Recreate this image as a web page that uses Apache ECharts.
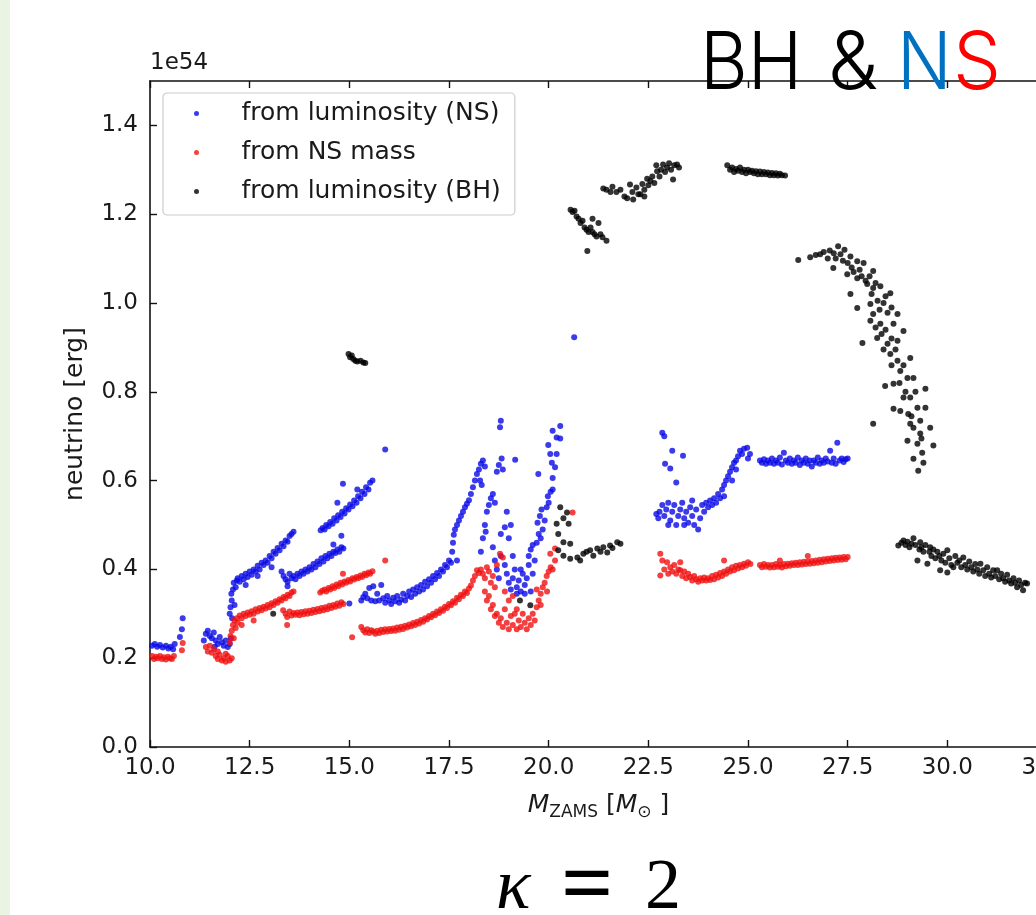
<!DOCTYPE html>
<html>
<head>
<meta charset="utf-8">
<script src="https://cdn.jsdelivr.net/npm/echarts@6/dist/echarts.min.js"></script>
<style>
  html, body { margin: 0; padding: 0; background: #fff; overflow: hidden; width: 1036px; height: 915px; }
  #myScatter { width: 1100px; height: 915px; }
</style>
</head>
<body>
<div id="myScatter"></div>
<script>
// values in units of 1e54 erg, x = M_ZAMS
const lumNS = [
  [10.05,0.228],[10.12,0.232],[10.18,0.226],[10.25,0.23],[10.32,0.224],[10.4,0.228],[10.46,0.222],[10.52,0.226],[10.58,0.22],[10.62,0.232],[10.75,0.248],[10.8,0.265],[10.82,0.29],
  [11.35,0.24],[11.4,0.255],[11.45,0.262],[11.5,0.25],[11.55,0.245],[11.6,0.258],[11.65,0.24],[11.7,0.232],[11.75,0.248],[11.8,0.236],[11.85,0.228],[11.9,0.24],[11.95,0.225],[12.0,0.232],[12.03,0.245],[11.62,0.226],
  [12.0,0.3],[12.02,0.315],[12.05,0.33],[12.04,0.345],[12.08,0.355],[12.1,0.37],[12.12,0.32],[12.15,0.36],[12.18,0.375],[12.06,0.29],
  [12.2,0.38],[12.25,0.372],[12.3,0.385],[12.35,0.378],[12.4,0.39],[12.45,0.383],[12.5,0.395],[12.55,0.388],[12.6,0.4],[12.65,0.395],[12.7,0.408],[12.75,0.4],[12.8,0.415],[12.85,0.41],[12.9,0.42],[12.95,0.415],[13.0,0.43],[13.05,0.425],[13.1,0.44],[13.15,0.435],[13.2,0.448],[13.25,0.443],[13.3,0.458],[13.35,0.452],[13.4,0.465],[13.45,0.462],[13.5,0.475],[13.55,0.48],[13.6,0.485],[12.4,0.365],[12.7,0.385],[13.05,0.405],
  [13.3,0.395],[13.35,0.385],[13.4,0.378],[13.45,0.372],[13.5,0.39],[13.55,0.38],[13.6,0.385],[13.65,0.378],[13.7,0.39],[13.75,0.385],[13.8,0.395],[13.85,0.39],[13.9,0.4],[13.95,0.395],[14.0,0.405],[14.05,0.4],[14.1,0.412],[14.15,0.405],[14.2,0.418],[14.25,0.412],[14.3,0.425],[14.35,0.418],[14.4,0.43],[14.45,0.425],[14.5,0.435],[14.55,0.43],[14.6,0.44],[14.65,0.437],[14.7,0.445],[14.75,0.44],[14.8,0.45],[14.85,0.447],[13.45,0.362],[14.6,0.456],[14.8,0.476],
  [14.28,0.488],[14.33,0.493],[14.38,0.49],[14.42,0.5],[14.48,0.497],[14.52,0.507],[14.58,0.503],[14.62,0.515],[14.68,0.51],[14.72,0.522],[14.78,0.518],[14.82,0.53],[14.88,0.526],[14.92,0.538],[14.98,0.535],[15.02,0.546],[15.08,0.542],[15.12,0.555],[15.18,0.55],[15.22,0.565],[15.28,0.56],[15.32,0.575],[15.38,0.57],[15.42,0.585],[15.48,0.58],[15.52,0.595],[15.58,0.6],[14.7,0.55],[14.84,0.593],[15.2,0.58],[15.9,0.67],
  [15.0,0.323],[15.3,0.33],[15.35,0.338],[15.4,0.345],[15.45,0.335],[15.5,0.358],[15.55,0.33],[15.6,0.362],[15.65,0.328],[15.7,0.345],[15.75,0.33],[15.8,0.365],[15.85,0.335],[15.9,0.325],[15.95,0.34],[16.0,0.33],[16.05,0.322],[16.1,0.336],[16.15,0.328],[16.2,0.34],[16.25,0.325],[16.3,0.332],[16.35,0.345],[16.4,0.33],[16.45,0.34],[16.5,0.35],[16.55,0.338],[16.6,0.355],[16.65,0.345],[16.7,0.36],[16.75,0.35],[16.8,0.365],[16.85,0.355],[16.9,0.372],[16.95,0.362],[17.0,0.378],[17.05,0.37],[17.1,0.385],[17.15,0.378],[17.2,0.392],[17.25,0.385],[17.3,0.4],[17.35,0.395],[17.4,0.41],[17.45,0.405],[17.5,0.42],[17.55,0.415],[17.58,0.44],[17.6,0.46],[17.62,0.478],[17.65,0.49],[17.7,0.5],[17.75,0.51],[17.8,0.52],[17.85,0.53],[17.9,0.54],[17.95,0.548],[18.0,0.556],[18.05,0.57],[18.1,0.585],[18.15,0.6],[18.2,0.615],[18.25,0.625],[18.3,0.638],[18.35,0.645],[18.4,0.632],[18.28,0.6],[18.32,0.59],[17.7,0.42],
  [18.3,0.44],[18.35,0.47],[18.4,0.5],[18.42,0.485],[18.45,0.53],[18.5,0.545],[18.55,0.56],[18.6,0.57],[18.65,0.55],[18.7,0.62],[18.75,0.635],[18.78,0.72],[18.8,0.735],[18.82,0.65],[18.85,0.625],[19.16,0.647],[18.8,0.48],[18.9,0.495],[19.0,0.47],[19.05,0.5],[18.95,0.53],[18.6,0.45],[18.65,0.42],[18.7,0.4],[18.75,0.38],[18.8,0.43],[18.9,0.41],[18.95,0.39],[19.0,0.37],[19.05,0.355],[19.1,0.38],[19.15,0.4],[19.2,0.36],[19.25,0.375],[19.3,0.35],[19.35,0.39],[19.4,0.365],[19.45,0.38],[19.5,0.41],[19.55,0.35],[19.6,0.39],[19.65,0.42],[19.1,0.43],[19.2,0.345],[19.4,0.345],[19.3,0.4],
  [19.5,0.43],[19.55,0.445],[19.6,0.455],[19.7,0.46],[19.75,0.48],[19.8,0.47],[19.85,0.49],[19.72,0.505],[19.78,0.52],[19.9,0.51],[19.82,0.535],[19.95,0.54],[20.0,0.55],[19.98,0.565],[20.05,0.575],[20.1,0.58],[19.74,0.615],[20.1,0.606],[20.08,0.64],[20.16,0.63],[20.04,0.66],[20.2,0.66],[19.99,0.68],[20.2,0.697],[20.29,0.695],[20.1,0.712],[20.29,0.723],[20.64,0.923],
  [22.85,0.708],[22.9,0.7],[23.1,0.667],[23.37,0.656],[22.92,0.638],[23.05,0.627],[23.2,0.596],[22.7,0.525],[22.75,0.515],[22.78,0.53],[22.85,0.545],[22.9,0.52],[22.95,0.535],[23.0,0.55],[23.05,0.51],[23.1,0.53],[23.15,0.545],[23.2,0.5],[23.25,0.52],[23.3,0.535],[23.35,0.55],[23.4,0.515],[23.45,0.53],[23.5,0.505],[23.55,0.54],[23.6,0.52],[23.65,0.5],[23.7,0.535],[23.75,0.49],[23.8,0.515],[23.85,0.545],[23.9,0.53],[23.95,0.55],[24.0,0.54],[24.05,0.555],[24.1,0.545],[24.15,0.56],[24.2,0.55],[24.25,0.57],[24.3,0.56],[24.35,0.58],[24.4,0.59],[24.45,0.6],[24.5,0.61],[24.55,0.62],[24.6,0.63],[24.65,0.64],[24.7,0.645],[24.75,0.655],[24.8,0.667],[24.85,0.66],[24.9,0.672],[24.98,0.674],[25.05,0.66],[25.0,0.65],[24.6,0.6],[24.4,0.565],[24.7,0.625],[23.4,0.5],[23.6,0.555],[23.0,0.5],
  [25.3,0.645],[25.35,0.64],[25.4,0.648],[25.45,0.638],[25.5,0.645],[25.55,0.64],[25.6,0.65],[25.65,0.638],[25.7,0.645],[25.75,0.64],[25.8,0.652],[25.85,0.636],[25.9,0.663],[25.95,0.645],[26.0,0.64],[26.05,0.65],[26.1,0.638],[26.15,0.645],[26.2,0.64],[26.25,0.652],[26.3,0.635],[26.35,0.645],[26.4,0.64],[26.45,0.65],[26.5,0.638],[26.55,0.645],[26.6,0.632],[26.65,0.645],[26.7,0.64],[26.75,0.652],[26.8,0.638],[26.85,0.645],[26.9,0.64],[26.95,0.65],[27.0,0.643],[27.06,0.667],[27.1,0.64],[27.15,0.65],[27.2,0.638],[27.24,0.685],[27.3,0.645],[27.35,0.65],[27.4,0.642],[27.45,0.648],[27.5,0.65]
]

const nsMass = [
  [10.05,0.205],[10.1,0.198],[10.15,0.203],[10.2,0.2],[10.25,0.205],[10.3,0.198],[10.35,0.202],[10.4,0.197],[10.45,0.203],[10.5,0.2],[10.55,0.198],[10.6,0.205],[10.8,0.218],[10.82,0.234],
  [11.4,0.225],[11.45,0.215],[11.5,0.228],[11.55,0.212],[11.6,0.22],[11.65,0.205],[11.7,0.198],[11.75,0.208],[11.8,0.195],[11.85,0.2],[11.9,0.192],[11.95,0.205],[12.0,0.195],[12.05,0.2],[11.7,0.215],[11.9,0.21],
  [12.0,0.235],[12.02,0.25],[12.05,0.262],[12.08,0.275],[12.1,0.245],[12.12,0.285],[12.15,0.268],[12.18,0.29],[12.2,0.28],[12.25,0.296],[12.3,0.29],[12.35,0.3],[12.4,0.295],[12.45,0.303],[12.5,0.298],[12.55,0.306],[12.6,0.3],[12.65,0.31],[12.7,0.305],[12.75,0.313],[12.8,0.308],[12.85,0.316],[12.9,0.312],[12.95,0.32],[13.0,0.315],[13.05,0.324],[13.1,0.32],[13.15,0.328],[13.2,0.325],[13.25,0.333],[13.3,0.33],[13.35,0.338],[13.4,0.335],[13.45,0.343],[13.5,0.34],[13.55,0.348],[13.6,0.35],[12.3,0.275],[12.6,0.285],
  [13.34,0.308],[13.4,0.3],[13.44,0.293],[13.5,0.305],[13.55,0.296],[13.6,0.302],[13.65,0.298],[13.7,0.303],[13.75,0.297],[13.8,0.304],[13.85,0.299],[13.9,0.306],[13.95,0.3],[14.0,0.307],[14.05,0.302],[14.1,0.309],[14.15,0.304],[14.2,0.311],[14.25,0.306],[14.3,0.313],[14.35,0.308],[14.4,0.315],[14.45,0.31],[14.5,0.318],[14.55,0.313],[14.6,0.32],[14.65,0.316],[14.7,0.323],[14.75,0.318],[14.8,0.326],[14.85,0.322],[13.44,0.275],
  [14.27,0.348],[14.32,0.352],[14.38,0.355],[14.42,0.35],[14.48,0.358],[14.52,0.355],[14.58,0.362],[14.62,0.358],[14.68,0.366],[14.72,0.362],[14.78,0.37],[14.82,0.366],[14.88,0.373],[14.92,0.37],[14.98,0.376],[15.02,0.373],[15.08,0.38],[15.12,0.377],[15.18,0.383],[15.22,0.38],[15.28,0.386],[15.32,0.383],[15.38,0.39],[15.42,0.387],[15.48,0.393],[15.52,0.39],[15.58,0.396],[14.84,0.39],[15.9,0.42],
  [15.07,0.247],[15.3,0.27],[15.35,0.263],[15.4,0.258],[15.45,0.265],[15.5,0.257],[15.55,0.263],[15.6,0.26],[15.65,0.255],[15.7,0.262],[15.75,0.257],[15.8,0.264],[15.85,0.259],[15.9,0.265],[15.95,0.26],[16.0,0.266],[16.05,0.261],[16.1,0.267],[16.15,0.262],[16.2,0.269],[16.25,0.264],[16.3,0.271],[16.35,0.266],[16.4,0.273],[16.45,0.269],[16.5,0.276],[16.55,0.272],[16.6,0.279],[16.65,0.275],[16.7,0.282],[16.75,0.278],[16.8,0.286],[16.85,0.282],[16.9,0.29],[16.95,0.287],[17.0,0.295],[17.05,0.292],[17.1,0.3],[17.15,0.297],[17.2,0.305],[17.25,0.302],[17.3,0.31],[17.35,0.307],[17.4,0.316],[17.45,0.313],[17.5,0.322],[17.55,0.319],[17.6,0.328],[17.65,0.325],[17.7,0.336],[17.75,0.333],[17.8,0.343],[17.85,0.34],[17.9,0.35],[17.95,0.347],[18.0,0.357],[18.05,0.364],[18.1,0.375],[18.15,0.385],[18.2,0.398],[18.25,0.392],
  [18.3,0.4],[18.35,0.39],[18.4,0.38],[18.45,0.405],[18.5,0.395],[18.55,0.37],[18.6,0.385],[18.65,0.36],[18.7,0.41],[18.78,0.435],[18.85,0.427],[18.4,0.35],[18.45,0.33],[18.5,0.34],[18.55,0.31],[18.6,0.32],[18.65,0.295],[18.7,0.3],[18.75,0.28],[18.8,0.29],[18.85,0.27],[18.9,0.31],[18.95,0.28],[19.0,0.265],[19.05,0.295],[19.1,0.275],[19.15,0.3],[19.2,0.265],[19.25,0.285],[19.3,0.27],[19.35,0.3],[19.4,0.28],[19.45,0.265],[19.5,0.29],[19.55,0.275],[19.6,0.3],[19.65,0.285],[19.7,0.315],[19.75,0.33],[19.8,0.345],[19.85,0.36],[19.9,0.37],[19.95,0.385],[19.96,0.35],[20.0,0.395],[20.05,0.405],[20.1,0.4],[20.04,0.435],[20.16,0.42],[20.16,0.447],[19.7,0.355],[19.8,0.32],[18.9,0.35],[19.0,0.33],[19.2,0.31],[19.1,0.34],[20.6,0.528],
  [22.8,0.435],[22.85,0.42],[22.8,0.386],[22.9,0.4],[22.97,0.416],[23.0,0.39],[23.05,0.405],[23.1,0.395],[23.15,0.41],[23.2,0.39],[23.25,0.4],[23.3,0.398],[23.3,0.416],[23.35,0.385],[23.4,0.395],[23.45,0.38],[23.5,0.39],[23.55,0.383],[23.6,0.375],[23.65,0.385],[23.7,0.378],[23.75,0.372],[23.8,0.38],[23.85,0.375],[23.9,0.382],[23.95,0.375],[24.0,0.38],[24.05,0.376],[24.1,0.385],[24.15,0.378],[24.2,0.388],[24.25,0.382],[24.3,0.392],[24.35,0.385],[24.4,0.395],[24.4,0.42],[24.45,0.39],[24.5,0.4],[24.55,0.395],[24.6,0.405],[24.65,0.398],[24.7,0.408],[24.75,0.402],[24.8,0.41],[24.85,0.405],[24.9,0.413],[24.95,0.408],[25.0,0.416],[25.06,0.412],
  [25.3,0.41],[25.35,0.405],[25.4,0.412],[25.45,0.406],[25.5,0.41],[25.55,0.404],[25.6,0.41],[25.65,0.405],[25.7,0.412],[25.75,0.406],[25.8,0.41],[25.85,0.404],[25.9,0.412],[25.95,0.407],[26.0,0.413],[26.05,0.408],[26.1,0.414],[26.15,0.41],[26.2,0.415],[26.25,0.41],[26.3,0.416],[26.35,0.411],[26.4,0.417],[26.45,0.412],[26.5,0.418],[26.55,0.413],[26.6,0.419],[26.65,0.414],[26.7,0.42],[26.75,0.415],[26.8,0.422],[26.85,0.416],[26.9,0.423],[26.95,0.418],[27.0,0.424],[27.05,0.419],[27.1,0.425],[27.15,0.42],[27.2,0.426],[27.25,0.421],[27.3,0.427],[27.35,0.422],[27.4,0.428],[27.45,0.423],[27.5,0.428],[26.5,0.43],[25.8,0.42]
]

const lumBH = [
  [13.09,0.3],[19.28,0.33],[19.54,0.319],
  [14.98,0.885],[15.02,0.878],[15.06,0.882],[15.1,0.874],[15.15,0.87],[15.2,0.868],[15.28,0.87],[15.35,0.866],[15.4,0.865],
  [20.55,1.21],[20.6,1.205],[20.65,1.208],[20.7,1.195],[20.75,1.19],[20.8,1.18],[20.85,1.185],[20.9,1.17],[20.95,1.165],[21.0,1.16],[21.05,1.17],[21.1,1.16],[21.15,1.155],[21.2,1.15],[21.25,1.18],[21.3,1.155],[21.35,1.148],[21.45,1.14],[20.97,1.117],[21.1,1.19],
  [21.37,1.258],[21.45,1.255],[21.55,1.25],[21.6,1.262],[21.7,1.25],[21.8,1.255],[21.9,1.24],[21.97,1.236],[22.04,1.267],[22.1,1.25],[22.12,1.233],[22.2,1.26],[22.25,1.245],[22.3,1.245],[22.35,1.268],[22.4,1.255],[22.47,1.28],[22.5,1.265],[22.55,1.275],[22.6,1.285],[22.65,1.27],[22.72,1.297],[22.78,1.285],[22.82,1.3],[22.87,1.312],[22.92,1.295],[22.97,1.305],[23.02,1.315],[23.07,1.3],[23.12,1.278],[23.15,1.31],[23.22,1.312],[23.27,1.305],[22.7,1.31],[22.4,1.24],
  [24.48,1.31],[24.55,1.3],[24.6,1.305],[24.65,1.295],[24.7,1.302],[24.75,1.298],[24.8,1.305],[24.85,1.295],[24.9,1.3],[24.95,1.292],[25.0,1.3],[25.05,1.295],[25.1,1.298],[25.15,1.292],[25.2,1.297],[25.25,1.29],[25.3,1.296],[25.35,1.29],[25.4,1.295],[25.45,1.29],[25.5,1.294],[25.55,1.288],[25.6,1.293],[25.65,1.288],[25.7,1.292],[25.75,1.287],[25.8,1.291],[25.85,1.288],[25.93,1.287],
  [20.29,0.54],[20.46,0.528],[20.37,0.515],[20.2,0.503],[20.5,0.503],[20.24,0.48],[20.37,0.461],[20.54,0.458],[20.24,0.443],[20.37,0.431],[20.54,0.424],[20.72,0.427],[20.87,0.435],[21.04,0.443],[21.22,0.447],[21.37,0.45],[21.54,0.454],[21.72,0.461],[21.8,0.458],[20.79,0.42],[21.12,0.431],[21.47,0.438],[20.95,0.44],[21.3,0.44],[21.6,0.448],
  [26.26,1.097],[26.56,1.103],[26.7,1.108],[26.81,1.11],[26.9,1.115],[27.0,1.1],[27.05,1.118],[27.14,1.079],[27.15,1.112],[27.2,1.1],[27.26,1.128],[27.32,1.11],[27.38,1.095],[27.42,1.12],[27.49,1.065],[27.5,1.09],[27.57,1.105],[27.6,1.08],[27.57,1.02],[27.65,1.07],[27.74,1.094],[27.74,1.056],[27.8,1.075],[27.85,1.06],[27.9,1.09],[27.95,1.05],[27.99,1.043],[28.05,1.06],[28.1,1.02],[28.14,1.072],[28.14,1.034],[28.2,1.045],[28.25,1.005],[28.32,1.038],[28.4,1.0],[28.45,1.015],[28.57,1.022],
  [27.74,0.989],[28.07,0.998],[28.14,0.975],[28.3,0.985],[28.5,0.978],[28.6,0.99],[28.75,0.975],[28.07,0.96],[28.2,0.945],[28.32,0.953],[28.45,0.94],[28.65,0.953],[28.9,0.937],[27.87,0.91],[28.24,0.921],[28.35,0.93],[28.5,0.908],[28.6,0.92],[28.75,0.915],[28.4,0.895],[28.57,0.885],[28.7,0.895],[28.75,0.87],[28.9,0.86],[29.07,0.876],[28.6,0.86],[28.82,0.847],[29.0,0.831],[29.15,0.831],[28.44,0.813],[28.65,0.818],[28.8,0.82],[28.9,0.787],[29.07,0.787],[29.2,0.8],[29.45,0.807],[28.65,0.762],[28.82,0.757],[29.02,0.75],[29.25,0.764],[29.45,0.764],[28.14,0.728],[29.07,0.728],[29.15,0.719],[29.32,0.735],[29.57,0.719],[29.0,0.69],[29.25,0.683],[29.32,0.706],[29.65,0.679],[29.15,0.649],[29.37,0.663],[29.4,0.64],[29.27,0.622],[28.95,0.8],[29.1,0.745],[29.35,0.695],
  [28.77,0.454],[28.85,0.46],[28.9,0.465],[28.95,0.455],[29.0,0.462],[29.05,0.45],[29.1,0.458],[29.15,0.47],[29.2,0.455],[29.25,0.42],[29.3,0.445],[29.32,0.461],[29.35,0.45],[29.4,0.44],[29.45,0.455],[29.5,0.413],[29.55,0.44],[29.57,0.45],[29.6,0.43],[29.65,0.445],[29.7,0.425],[29.75,0.44],[29.8,0.43],[29.82,0.398],[29.85,0.42],[29.9,0.435],[29.95,0.415],[30.0,0.443],[30.0,0.393],[30.05,0.425],[30.1,0.41],[30.15,0.405],[30.2,0.43],[30.25,0.415],[30.3,0.42],[30.35,0.405],[30.4,0.427],[30.45,0.41],[30.5,0.4],[30.55,0.418],[30.6,0.405],[30.65,0.395],[30.7,0.412],[30.75,0.4],[30.8,0.39],[30.83,0.413],[30.9,0.398],[30.95,0.385],[31.0,0.405],[31.05,0.39],[31.1,0.382],[31.15,0.398],[31.2,0.385],[31.25,0.398],[31.3,0.378],[31.35,0.39],[31.4,0.38],[31.45,0.372],[31.5,0.388],[31.55,0.375],[31.6,0.368],[31.66,0.38],[31.7,0.37],[31.75,0.36],[31.8,0.375],[31.85,0.365],[31.9,0.353],[31.95,0.37],[32.0,0.368]
]

const seriesNames = ['from luminosity (NS)', 'from NS mass', 'from luminosity (BH)']
const xRange = [10, 32.5, 2.5]
const yRange = [0, 1.5, 0.2]

let myChart = echarts.init(document.getElementById('myScatter'))

const tickFont = { fontFamily: 'DejaVu Sans', fontSize: 23, color: '#1a1a1a' }
const spine = { show: true, onZero: false, lineStyle: { color: '#111', width: 1.6 } }
const ticks = { show: true, inside: true, length: 7, lineStyle: { color: '#111', width: 1.4 } }
const titleFont = '300 80px Inter'

myChart.setOption({
  animation: false,
  backgroundColor: '#fff',
  grid: { left: 150, top: 81, width: 897, height: 666 },
  legend: {
    orient: 'vertical',
    left: 163,
    top: 93,
    padding: [8, 14, 11, 31],
    itemWidth: 60,
    itemHeight: 5,
    itemGap: 14,
    backgroundColor: '#fff',
    borderColor: '#cccccc',
    borderWidth: 1.2,
    borderRadius: 4,
    formatter: name => '{g|}' + name,
    textStyle: {
      fontFamily: 'DejaVu Sans', fontSize: 25, color: '#1a1a1a',
      rich: { g: { width: 10 } }
    },
    data: seriesNames
  },
  xAxis: [
    {
      type: 'value', min: xRange[0], max: xRange[1], interval: xRange[2],
      axisLine: spine, axisTick: ticks, splitLine: { show: false },
      axisLabel: Object.assign({ margin: 10, formatter: v => v.toFixed(1) }, tickFont),
      name: '{i|M}{s|ZAMS}{n| [}{i|M}{s|⊙}{n| ]}',
      nameLocation: 'middle',
      nameGap: 46,
      nameTextStyle: {
        fontFamily: 'DejaVu Sans', fontSize: 25, color: '#1a1a1a',
        rich: {
          i: { fontFamily: 'DejaVu Sans', fontStyle: 'italic', fontSize: 25, color: '#1a1a1a', verticalAlign: 'bottom' },
          n: { fontFamily: 'DejaVu Sans', fontSize: 25, color: '#1a1a1a', verticalAlign: 'bottom' },
          s: { fontFamily: 'DejaVu Sans', fontSize: 17, color: '#1a1a1a', verticalAlign: 'bottom', padding: [0, 0, -3, 0] }
        }
      }
    },
    {
      type: 'value', position: 'top', min: xRange[0], max: xRange[1], interval: xRange[2],
      axisLine: spine, axisTick: ticks, axisLabel: { show: false }, splitLine: { show: false }
    }
  ],
  yAxis: [
    {
      type: 'value', min: yRange[0], max: yRange[1], interval: yRange[2],
      axisLine: spine, axisTick: ticks, splitLine: { show: false },
      axisLabel: Object.assign({ margin: 12, showMaxLabel: false, formatter: v => v.toFixed(1) }, tickFont),
      name: 'neutrino [erg]',
      nameLocation: 'middle',
      nameGap: 62,
      nameTextStyle: { fontFamily: 'DejaVu Sans', fontSize: 25, color: '#1a1a1a' }
    },
    {
      type: 'value', position: 'right', min: yRange[0], max: yRange[1], interval: yRange[2],
      axisLine: spine, axisTick: ticks, axisLabel: { show: false }, splitLine: { show: false }
    }
  ],
  graphic: [
    { type: 'rect', left: 0, top: 0, shape: { width: 10, height: 915 }, style: { fill: '#e9f4e3' } },
    { type: 'text', left: 150, top: 52, style: { text: '1e54', font: '23px "DejaVu Sans"', fill: '#1a1a1a' } },
    { type: 'text', z: 10, x: 700, y: 65, scaleX: 0.92, style: { text: 'BH', font: titleFont, fill: '#000', verticalAlign: 'middle' } },
    { type: 'text', z: 10, x: 828, y: 65, style: { text: '&', font: titleFont, fill: '#000', verticalAlign: 'middle' } },
    { type: 'text', z: 10, x: 897, y: 65, scaleX: 0.9, style: { text: 'N', font: titleFont, fill: '#0070c0', verticalAlign: 'middle' } },
    { type: 'text', z: 10, x: 953, y: 65, scaleX: 0.95, style: { text: 'S', font: titleFont, fill: '#ff0000', verticalAlign: 'middle' } },
    { type: 'text', x: 496, y: 889, style: { text: 'κ', font: 'italic 72px "Liberation Serif"', fill: '#000', verticalAlign: 'middle' } },
    { type: 'text', x: 561, y: 889, style: { text: '=', font: 'bold 92px "Liberation Serif"', fill: '#000', verticalAlign: 'middle' } },
    { type: 'text', x: 645, y: 889, style: { text: '2', font: '72px "Liberation Serif"', fill: '#000', verticalAlign: 'middle' } }
  ],
  series: [
    { name: seriesNames[0], type: 'scatter', symbolSize: 6, itemStyle: { color: '#0a0ae6' }, data: lumNS },
    { name: seriesNames[1], type: 'scatter', symbolSize: 6, itemStyle: { color: '#f01010' }, data: nsMass },
    { name: seriesNames[2], type: 'scatter', symbolSize: 6, itemStyle: { color: '#000000' }, data: lumBH }
  ]
})
</script>
</body>
</html>
